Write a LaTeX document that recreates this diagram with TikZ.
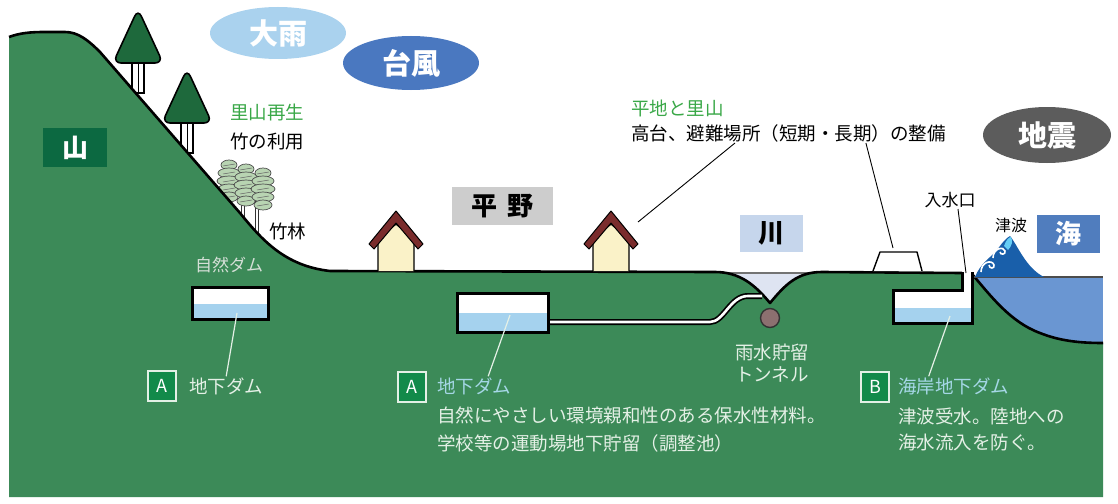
\documentclass[tikz,border=0pt]{standalone}
\usepackage{fontspec}
\setmainfont{Noto Sans CJK JP}
\usetikzlibrary{shapes.geometric,calc}

\definecolor{ground}{RGB}{60,138,88}
\definecolor{treegreen}{RGB}{30,105,60}
\definecolor{mtbox}{RGB}{12,105,65}
\definecolor{leafgreen}{RGB}{58,168,72}
\definecolor{paletext}{RGB}{228,240,230}
\definecolor{cyantext}{RGB}{165,215,230}
\definecolor{water}{RGB}{165,210,238}
\definecolor{sea}{RGB}{106,150,210}
\definecolor{wave}{RGB}{25,95,170}
\definecolor{seabox}{RGB}{80,125,190}
\definecolor{riverfill}{RGB}{222,228,242}
\definecolor{riverbox}{RGB}{198,214,236}
\definecolor{plainbox}{RGB}{205,205,205}
\definecolor{rainc}{RGB}{170,210,238}
\definecolor{typhoonc}{RGB}{74,120,192}
\definecolor{quakec}{RGB}{92,92,92}
\definecolor{roofc}{RGB}{122,44,44}
\definecolor{wallc}{RGB}{250,242,200}
\definecolor{tunnelc}{RGB}{140,112,112}
\definecolor{badgec}{RGB}{18,138,74}
\definecolor{bamboo}{RGB}{184,212,178}

\tikzset{
  body/.style={font=\fontsize{18.5}{22}\selectfont, inner sep=1pt},
  cloudtag/.style={ellipse, inner sep=0pt, text=white,
    font=\fontsize{29}{32}\selectfont\bfseries},
  areatag/.style={rectangle, inner sep=0pt,
    font=\fontsize{26}{30}\selectfont\bfseries},
  badgebox/.style={rectangle, draw=paletext, line width=2pt, fill=badgec,
    text=white, minimum width=28pt, minimum height=30pt, inner sep=0pt,
    font=\fontsize{18}{20}\selectfont},
  damtank/.style={rectangle, draw=black, line width=3pt, fill=white, inner sep=0pt,
    path picture={\fill[water]
      ($(path picture bounding box.south west)!0.48!(path picture bounding box.north west)$)
      rectangle (path picture bounding box.south east);}},
  leader/.style={draw=black, line width=0.9pt},
  paleleader/.style={draw=paletext, line width=1.2pt},
  outline/.style={draw=black, line width=2.6pt, line join=round},
  house/.pic={
    \filldraw[fill=wallc, draw=black, line width=1.4pt]
      (-18,60) -- (-18,28) -- (0,13) -- (18,28) -- (18,60);
    \filldraw[fill=roofc, draw=black, line width=1pt, line join=round]
      (-27,33) -- (0,0) -- (27,33) -- (22,38) -- (0,12) -- (-22,38) -- cycle;
  },
  tree/.pic={
    \filldraw[fill=white, draw=black, line width=1.4pt] (-6,46) rectangle (6,80);
    \draw[black, line width=1pt] (0,48) -- (0,80);
    \filldraw[fill=treegreen, draw=black, line width=1.6pt, rounded corners=8pt]
      (0,-4) -- (25,50) -- (-25,50) -- cycle;
  },
  bambooclump/.pic={
    \foreach \dy/\rx in {0/8,8/11,16/12,24/11,32/9}{
      \filldraw[fill=bamboo, draw=black!70, line width=0.7pt]
        (0,\dy) ellipse (\rx pt and 5pt);
      \draw[black!60, line width=0.5pt] (-6,\dy+1) -- (6,\dy-1);
    }
  }
}

\begin{document}
\begin{tikzpicture}[x=1pt,y=-1pt]
\useasboundingbox (0,0) rectangle (1118,503);
\fill[white] (0,0) rectangle (1118,503);

% sea
\fill[sea] (970,276) rectangle (1103,346);

% trees on the mountain slope (behind the ground)
\pic at (138,13) {tree};
\pic at (187,73) {tree};

% bamboo grove
\foreach \bx/\top/\bot in {228/185/205,243/190/222,257/195/240}{
  \draw[black!80, line width=3.6pt] (\bx,\top) -- (\bx,\bot);
  \draw[white, line width=1.8pt] (\bx,\top) -- (\bx,\bot);
}
\pic at (229,165) {bambooclump};
\pic at (246,169) {bambooclump};
\pic at (263,173) {bambooclump};

% ground body
\fill[ground] (9,37) .. controls (20,33) and (30,32) .. (45,32) -- (65,32)
  .. controls (78,32) and (88,40) .. (100,52) -- (240,213)
  .. controls (262,240) and (285,266) .. (330,271) -- (715,272)
  .. controls (740,272) and (755,285) .. (770,303)
  .. controls (785,285) and (797,272) .. (822,272) -- (972,274)
  .. controls (990,295) and (1010,322) .. (1040,333)
  .. controls (1060,341) and (1080,343) .. (1103,343)
  -- (1103,497) -- (9,497) -- cycle;

% river bed
\fill[riverfill] (715,272) .. controls (740,272) and (755,285) .. (770,303)
  .. controls (785,285) and (797,272) .. (822,272) -- cycle;
\draw[black!55, line width=1.2pt] (728,273) -- (810,273);

% ground surface and coast line
\draw[outline] (9,37) .. controls (20,33) and (30,32) .. (45,32) -- (65,32)
  .. controls (78,32) and (88,40) .. (100,52) -- (240,213)
  .. controls (262,240) and (285,266) .. (330,271) -- (715,272)
  .. controls (740,272) and (755,285) .. (770,303)
  .. controls (785,285) and (797,272) .. (822,272) -- (962,273);
\draw[outline] (972,274) .. controls (990,295) and (1010,322) .. (1040,333)
  .. controls (1060,341) and (1080,343) .. (1103,343);
\draw[black!70, line width=1.2pt] (972,277) -- (1103,277);

% tsunami wave
\fill[wave] (975,277) .. controls (980,264) and (990,258) .. (997,250)
  .. controls (1002,243) and (1006,238) .. (1010,236)
  .. controls (1018,246) and (1026,268) .. (1044,277) -- cycle;
\fill[cyan!60!white] (1004,246) .. controls (1006,240) and (1009,237) .. (1011,237)
  .. controls (1013,241) and (1012,246) .. (1008,250) -- cycle;
\draw[white, line width=1.6pt] (981,272) .. controls (981,262) and (992,259) .. (994,265)
  .. controls (995,269) and (989,269) .. (989,265);
\draw[white, line width=1.6pt] (993,258) .. controls (993,248) and (1004,246) .. (1005,251)
  .. controls (1006,255) and (1000,255) .. (1000,252);

% high ground shelter
\filldraw[fill=white, draw=black, line width=1.4pt, line join=round]
  (873,271) -- (880,252) -- (917,252) -- (922,271);
\coordinate (platformtop) at (893,248);

% houses on the plain
\pic at (396,211) {house};
\pic at (611,211) {house};
\coordinate (houseside) at (638,222);

% drainage pipe to the river
\coordinate (pipeend) at (762,296);
\node[damtank, minimum width=91pt, minimum height=39pt] (dam2) at (502.5,312.5) {};
\draw[black, line width=6pt] ([yshift=-9.5pt]dam2.east) -- (710,322)
  .. controls (724,322) and (730,296) .. (748,296) -- (pipeend);
\draw[white, line width=2.6pt] ([yshift=-9.5pt]dam2.east) -- (710,322)
  .. controls (724,322) and (730,296) .. (748,296) -- (pipeend);
\node[damtank, minimum width=91pt, minimum height=39pt] at (dam2) {};

% rainwater storage tunnel
\node[circle, fill=tunnelc, draw=black!80, line width=1.4pt, minimum size=19pt,
  inner sep=0pt] (tunnel) at (770,318) {};

% natural dam under the mountain foot
\node[damtank, minimum width=76pt, minimum height=32pt] (dam1) at (230,303) {};

% coastal dam with intake shaft
\fill[white] (893,290) -- (962,290) -- (962,272) -- (972,272) -- (972,323)
  -- (893,323) -- cycle;
\fill[water] (893,308) rectangle (972,323);
\draw[black, line width=3pt, line join=miter]
  (962,272) -- (962,290) -- (893,290) -- (893,323) -- (972,323) -- (972,272);
\coordinate (shaft) at (966,273);
\coordinate (dam3in) at (950,316);

% sky labels
\node[cloudtag, fill=rainc, minimum width=136pt, minimum height=52pt] (rain) at (278,33) {大雨};
\node[cloudtag, fill=typhoonc, minimum width=136pt, minimum height=54pt] (typhoon) at (411,63) {台風};
\node[cloudtag, fill=quakec, minimum width=128pt, minimum height=56pt] (quake) at (1047,135) {地震};

% area tags
\node[areatag, fill=mtbox, text=white, minimum width=64pt, minimum height=39pt] (mountain) at (75,147.5) {山};
\node[areatag, fill=plainbox, text=black, minimum width=101pt, minimum height=38pt] (plain) at (502.5,206) {平\hspace{10pt}野};
\node[areatag, fill=riverbox, text=black, minimum width=63pt, minimum height=37pt] (river) at (771.5,233.5) {川};
\node[areatag, fill=seabox, text=white, minimum width=63pt, minimum height=38pt] (seatag) at (1068.5,234) {海};

% notes above ground
\node[body, anchor=west, text=leafgreen] (satoyama) at (229,112) {里山再生};
\node[body, anchor=west] (bambooUse) at (229,142) {竹の利用};
\node[body, anchor=west] (grove) at (268,231) {竹林};
\node[body, anchor=west, text=leafgreen] (flatland) at (630,108) {平地と里山};
\node[body, anchor=west] (shelter) at (630,133) {高台、避難場所（短期・長期）の整備};
\node[body, font=\fontsize{17}{20}\selectfont] (intake) at (950,200) {入水口};
\node[body, font=\fontsize{16}{18}\selectfont] (tsunami) at (1011,225) {津波};

\draw[leader] ([xshift=-81pt]shelter.south east) -- (platformtop);
\draw[leader] ([xshift=105pt]shelter.south west) -- (houseside);
\draw[leader] ([xshift=8pt]intake.south) -- (shaft);

% notes below ground
\node[body, text=paletext!85!gray, font=\fontsize{17}{20}\selectfont] (natdam) at (229,265) {自然ダム};

\node[badgebox] (badgeA1) at (162,386) {A};
\node[body, anchor=west, text=paletext] (lblA1) at (188,386) {地下ダム};
\draw[paleleader] ([xshift=7pt,yshift=-10pt]dam1.center) -- (lblA1.north);

\node[badgebox] (badgeA2) at (412,387) {A};
\node[body, anchor=west, text=cyantext] (lblA2) at (436,386) {地下ダム};
\node[body, anchor=west, text=paletext] (descA1) at (436,415) {自然にやさしい環境親和性のある保水性材料。};
\node[body, anchor=west, text=paletext] (descA2) at (436,443) {学校等の運動場地下貯留（調整池）};
\draw[paleleader] ([xshift=7.5pt,yshift=-2.5pt]dam2.center) -- ([xshift=14pt]lblA2.north);

\node[body, align=center, text=paletext] (tunnelLbl) at (772,363) {雨水貯留\\トンネル};

\node[badgebox] (badgeB) at (875,387) {B};
\node[body, anchor=west, text=cyantext] (lblB) at (897,386) {海岸地下ダム};
\node[body, anchor=west, text=paletext] (descB1) at (897,416) {津波受水。陸地への};
\node[body, anchor=west, text=paletext] (descB2) at (897,442) {海水流入を防ぐ。};
\draw[paleleader] (dam3in) -- ([xshift=-25pt]lblB.north);
\end{tikzpicture}
\end{document}
